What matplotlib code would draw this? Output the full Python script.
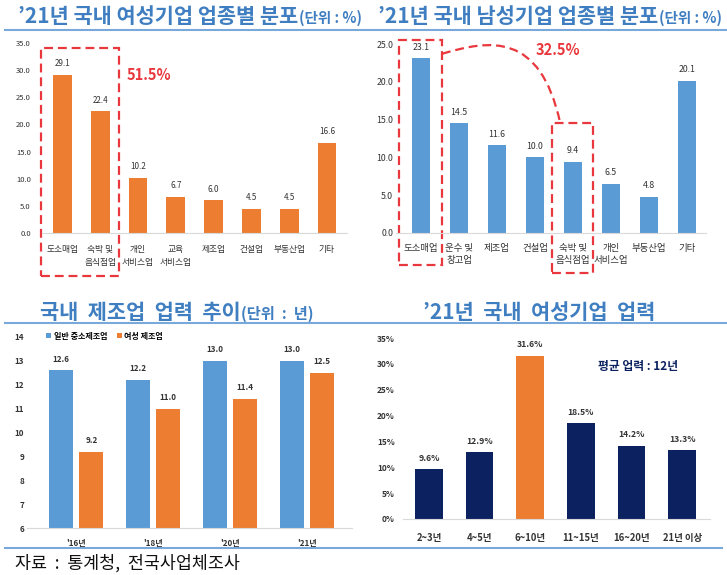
import matplotlib
matplotlib.use('Agg')
import matplotlib.pyplot as plt
from matplotlib.patches import Rectangle, PathPatch
from matplotlib.path import Path
from matplotlib.lines import Line2D
import numpy as np

plt.rcParams['font.family'] = ['Noto Sans CJK KR', 'DejaVu Sans']

# ---------------- data ----------------
women_cats = ['도소매업', '숙박 및\n음식점업', '개인\n서비스업', '교육\n서비스업',
              '제조업', '건설업', '부동산업', '기타']
women_vals = [29.1, 22.4, 10.2, 6.7, 6.0, 4.5, 4.5, 16.6]

men_cats = ['도소매업', '운수 및\n창고업', '제조업', '건설업', '숙박 및\n음식점업',
            '개인\n서비스업', '부동산업', '기타']
men_vals = [23.1, 14.5, 11.6, 10.0, 9.4, 6.5, 4.8, 20.1]

years = ["'16년", "'18년", "'20년", "'21년"]
general_mfg = [12.6, 12.2, 13.0, 13.0]
women_mfg = [9.2, 11.0, 11.4, 12.5]
mfg_series = ['일반 중소제조업', '여성 제조업']

age_cats = ['2~3년', '4~5년', '6~10년', '11~15년', '16~20년', '21년 이상']
age_vals = [9.6, 12.9, 31.6, 18.5, 14.2, 13.3]

# ---------------- style ----------------
ORANGE = '#ED7D31'
BLUE = '#5B9BD5'
NAVY = '#0B2160'
RED = '#E8383D'
TITLE_C = '#3F7EC0'
LINE_C = '#78A9DA'
TXT = '#333333'

W, H = 727, 575
fig = plt.figure(figsize=(W / 100, H / 100), dpi=100)


def add_ax(x0, y0, x1, y1):
    return fig.add_axes([x0 / W, 1 - y1 / H, (x1 - x0) / W, (y1 - y0) / H])


def style(ax, ylim, yticks, labels, fs, pad, bold=False):
    ax.set_ylim(*ylim)
    ax.set_yticks(yticks)
    ax.set_yticklabels(labels, fontsize=fs, color=TXT,
                       fontweight='bold' if bold else 'normal')
    for s in ['top', 'right', 'left']:
        ax.spines[s].set_visible(False)
    ax.spines['bottom'].set_color('#d9d9d9')
    ax.spines['bottom'].set_linewidth(0.8)
    ax.tick_params(axis='both', length=0)
    ax.tick_params(axis='y', pad=pad)
    ax.set_facecolor('none')


def value_labels(ax, xs, vals, fmt, fs, bold=False):
    for x, v in zip(xs, vals):
        ax.annotate(fmt(v), (x, v), xytext=(0, 8), textcoords='offset points',
                    ha='center', va='center', fontsize=fs, color=TXT,
                    fontweight='bold' if bold else 'normal')


def title(x, y, main, unit=None, unit_fs=10.5):
    t = fig.text(x / W, 1 - y / H, main, fontsize=15, fontweight='bold',
                 color=TITLE_C, va='baseline', ha='left')
    if unit:
        rend = fig.canvas.get_renderer()
        bb = t.get_window_extent(renderer=rend)
        fig.text(bb.x1 / W + 0.001, 1 - y / H, unit, fontsize=unit_fs,
                 fontweight='bold', color=TITLE_C, va='baseline', ha='left')


dash = (0, (4, 2.2))

# ---------------- top-left: women by industry ----------------
ax1 = add_ax(42, 43, 347, 233)
x1 = np.arange(len(women_vals))
ax1.bar(x1, women_vals, width=0.5, color=ORANGE)
ax1.set_xlim(-0.54, len(women_vals) - 1 + 0.53)
style(ax1, (0, 35), np.arange(0, 35.1, 5), [f'{v:.1f}' for v in np.arange(0, 35.1, 5)], 5.5, 8)
ax1.set_xticks(x1)
ax1.set_xticklabels(women_cats, fontsize=6.3, color=TXT, linespacing=1.45)
ax1.tick_params(axis='x', pad=9)
value_labels(ax1, x1, women_vals, lambda v: f'{v:.1f}', 5.8)
ax1.add_patch(Rectangle((0 - 0.57, -7.9), 2.06, 42.0, fill=False, ec=RED,
                        lw=1.6, ls=dash, clip_on=False))
ax1.text(1.7, 29.1, '51.5%', color=RED, fontsize=10.5, fontweight='bold',
         ha='left', va='center')

# ---------------- top-right: men by industry ----------------
ax2 = add_ax(396, 44, 706, 233)
x2 = np.arange(len(men_vals))
ax2.bar(x2, men_vals, width=0.47, color=BLUE)
ax2.set_xlim(-0.66, len(men_vals) - 1 + 0.5)
style(ax2, (0, 25), np.arange(0, 25.1, 5), [f'{v:.1f}' for v in np.arange(0, 25.1, 5)], 6.3, 2)
ax2.set_xticks(x2)
ax2.set_xticklabels(men_cats, fontsize=6.8, color=TXT, linespacing=1.45)
ax2.tick_params(axis='x', pad=8)
value_labels(ax2, x2, men_vals, lambda v: f'{v:.1f}', 6.3)
ax2.add_patch(Rectangle((-0.58, -4.2), 1.13, 29.7, fill=False, ec=RED,
                        lw=1.6, ls=dash, clip_on=False))
ax2.add_patch(Rectangle((3.45, -5.3), 1.08, 19.85, fill=False, ec=RED,
                        lw=1.6, ls=dash, clip_on=False))
curve = Path([(0.55, 23.7), (1.82, 25.6), (3.13, 26.6), (3.66, 14.6)],
             [Path.MOVETO, Path.CURVE4, Path.CURVE4, Path.CURVE4])
ax2.add_patch(PathPatch(curve, fill=False, ec=RED, lw=1.6, ls=dash, clip_on=False))
ax2.text(3.6, 24.2, '32.5%', color=RED, fontsize=10.5, fontweight='bold',
         ha='center', va='center')

# ---------------- bottom-left: manufacturing career ----------------
ax3 = add_ax(27, 337, 352, 528)
x3 = np.arange(len(years))
off, bw = 0.195, 0.31
ax3.bar(x3 - off, general_mfg, width=bw, color=BLUE, label=mfg_series[0])
ax3.bar(x3 + off, women_mfg, width=bw, color=ORANGE, label=mfg_series[1])
ax3.set_xlim(-0.64, len(years) - 1 + 0.58)
style(ax3, (6, 14), np.arange(6, 15), [str(v) for v in range(6, 15)], 5.8, 2, bold=True)
ax3.set_xticks(x3)
ax3.set_xticklabels(years, fontsize=5.8, color=TXT, fontweight='bold')
ax3.tick_params(axis='x', pad=8)
value_labels(ax3, x3 - off, general_mfg, lambda v: f'{v:.1f}', 5.8, bold=True)
value_labels(ax3, x3 + off, women_mfg, lambda v: f'{v:.1f}', 5.8, bold=True)
ax3.legend(loc='upper left', bbox_to_anchor=(0.05, 1.045), ncol=2, frameon=False,
           handlelength=0.6, handleheight=0.6, handletextpad=0.3,
           columnspacing=1.2, borderaxespad=0, prop={'weight': 'bold', 'size': 5.8})

# ---------------- bottom-right: women business career ----------------
ax4 = add_ax(403, 338, 710, 519)
x4 = np.arange(len(age_vals))
hi = int(np.argmax(age_vals))
cols = [ORANGE if i == hi else NAVY for i in range(len(age_vals))]
ax4.bar(x4, age_vals, width=0.55, color=cols)
ax4.set_xlim(-0.51, len(age_vals) - 1 + 0.55)
style(ax4, (0, 35), np.arange(0, 36, 5), [f'{v}%' for v in range(0, 36, 5)], 6, 6, bold=True)
ax4.set_xticks(x4)
ax4.set_xticklabels(age_cats, fontsize=6.8, color=TXT, fontweight='bold')
ax4.tick_params(axis='x', pad=10)
value_labels(ax4, x4, age_vals, lambda v: f'{v:.1f}%', 6.2, bold=True)
ax4.text(4.13, 29.4, '평균 업력 : 12년', color=NAVY, fontsize=8.5,
         fontweight='bold', ha='center', va='center')

# ---------------- titles, rules, source ----------------
title(18, 23, "\u201921년 국내 여성기업 업종별 분포", '(단위 : %)')
title(378, 23, "\u201921년 국내 남성기업 업종별 분포", '(단위 : %)')
title(40, 319, "국내  제조업  업력  추이", '(단위  :  년)', unit_fs=11)
title(423, 319, "\u201921년  국내  여성기업  업력")

for y, x0, x1_ in [(30, 5, 727), (323, 5, 727), (548, 5, 722)]:
    fig.add_artist(Line2D([x0 / W, x1_ / W], [1 - y / H, 1 - y / H],
                          color=LINE_C, lw=1.5, transform=fig.transFigure))

fig.text(15 / W, 1 - 563 / H, '자료  :  통계청,  전국사업체조사', fontsize=12.5,
         color='#111111', va='center', ha='left')

fig.savefig('out.png', dpi=100)
